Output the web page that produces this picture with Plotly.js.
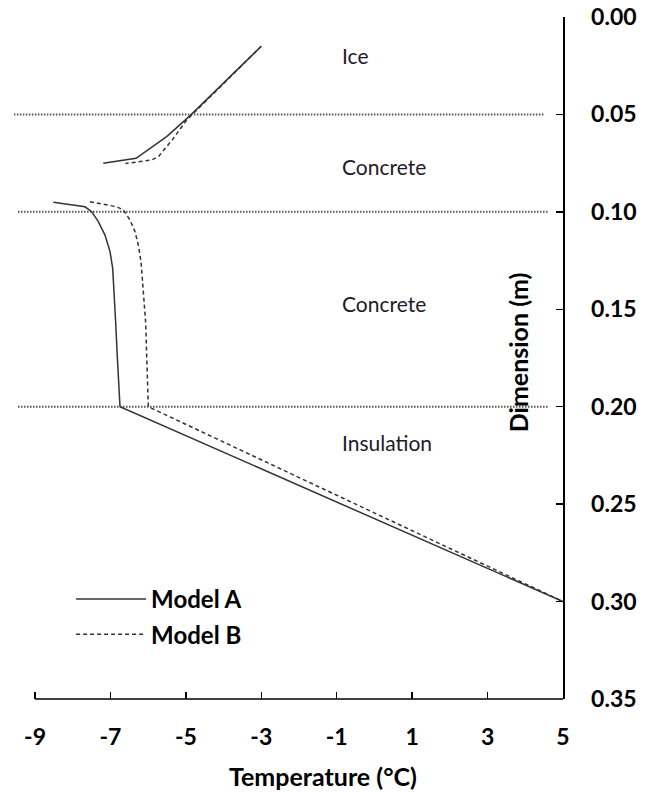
<!DOCTYPE html>
<html>
<head>
<meta charset="utf-8">
<script src="https://cdn.plot.ly/plotly-3.0.1.min.js"></script>
<style>html,body{margin:0;padding:0;background:#fff;}#chart{width:653px;height:792px;}</style>
</head>
<body>
<div id="chart"></div>
<script>
// Model A: temperature (°C) vs depth (m); null separates the two layers drawn
var modelA_temp  = [-3.0, -4.88, -5.51, -6.32, -7.19, null,
                    -8.515, -7.674, -7.496, -7.321, -7.144, -7.011, -6.940, -6.905, -6.860, -6.818, -6.773, -6.746, 5.0];
var modelA_depth = [0.015, 0.0505, 0.0614, 0.0725, 0.0751, null,
                    0.0951, 0.0974, 0.0999, 0.1050, 0.1119, 0.1204, 0.1290, 0.1392, 0.1572, 0.1743, 0.1914, 0.200, 0.300];
// Model B
var modelB_temp  = [-3.0, -4.88, -4.98, -5.33, -5.73, -5.91, -6.60, null,
                    -7.542, -6.833, -6.658, -6.481, -6.348, -6.261, -6.189, -6.155, -6.102, -6.064, -6.038, -6.011, -5.995, 5.0];
var modelB_depth = [0.015, 0.0505, 0.0529, 0.0623, 0.0717, 0.0734, 0.0752, null,
                    0.0948, 0.0974, 0.0990, 0.1042, 0.1102, 0.1170, 0.1256, 0.1341, 0.1444, 0.1572, 0.1743, 0.1914, 0.200, 0.300];
// layer boundaries (m)
var boundaryDepths = [0.05, 0.10, 0.20];
// layer labels
var layerNames = ['Ice', 'Concrete', 'Concrete', 'Insulation'];
var layerLabelDepths = [0.0195, 0.0765, 0.147, 0.2186];
// ticks
var xTickVals = [-9, -7, -5, -3, -1, 1, 3, 5];
var xTickText = ['-9', '-7', '-5', '-3', '-1', '1', '3', '5'];
var yTickVals = [0, 0.05, 0.10, 0.15, 0.20, 0.25, 0.30, 0.35];
var yTickText = ['0.00', '0.05', '0.10', '0.15', '0.20', '0.25', '0.30', '0.35'];

var FONT = 'Lato, "Open Sans", sans-serif';

var traces = [
  {x: modelA_temp, y: modelA_depth, name: 'Model A', mode: 'lines', connectgaps: false,
   legendgroup: 'a', line: {color: '#333', width: 1.5}},
  {x: modelB_temp, y: modelB_depth, name: 'Model B', mode: 'lines', connectgaps: false,
   legendgroup: 'b', line: {color: '#333', width: 1.5, dash: '4px,3px'}}
];

var shapes = [];
var bStart = [-9.56, -9.45, -9.45], bEnd = [4.52, 4.63, 4.63];
boundaryDepths.forEach(function (d, i) {
  shapes.push({type: 'line', xref: 'x', yref: 'y', x0: bStart[i], x1: bEnd[i], y0: d, y1: d,
    line: {color: '#555', width: 2, dash: '1.5px,1.5px'}, layer: 'below'});
});
// x axis line spanning -9 .. 5
shapes.push({type: 'line', xref: 'x', yref: 'paper', x0: xTickVals[0], x1: xTickVals[xTickVals.length - 1],
  y0: 0, y1: 0, line: {color: '#000', width: 1.5}});

var annotations = layerNames.map(function (t, i) {
  return {text: t, x: -0.9, y: layerLabelDepths[i], xref: 'x', yref: 'y', xanchor: 'left', yanchor: 'middle',
    showarrow: false, font: {family: FONT, size: 21, color: '#1e1a2a'}};
});
annotations.push({text: '<b>Dimension (m)</b>', textangle: -90, x: 3.81, y: 0.172, xref: 'x', yref: 'y',
  xanchor: 'center', yanchor: 'middle', showarrow: false, font: {family: FONT, size: 25, color: '#000'}});
annotations.push({text: '<b>Temperature (°C)</b>', x: -1.36, y: -0.1129, xref: 'x', yref: 'paper',
  xanchor: 'center', yanchor: 'middle', showarrow: false, font: {family: FONT, size: 25, color: '#000'}});

var layout = {
  width: 653, height: 792,
  margin: {l: 14, r: 90, t: 17, b: 93},
  paper_bgcolor: '#fff', plot_bgcolor: '#fff',
  showlegend: true,
  legend: {x: 0.104, y: 0.179, xanchor: 'left', yanchor: 'top', bgcolor: 'rgba(0,0,0,0)',
    itemwidth: 70, tracegroupgap: 1, traceorder: 'grouped',
    font: {family: FONT, size: 24, color: '#000', weight: 'bold'}},
  xaxis: {
    range: [-9.557, 5], tickvals: xTickVals, ticktext: xTickText, ticks: 'inside', ticklen: 7, tickwidth: 1.5,
    tickcolor: '#000', showline: false, zeroline: false, showgrid: false, ticklabelstandoff: 22,
    tickfont: {family: FONT, size: 23, color: '#000', weight: 'bold'}
  },
  yaxis: {
    range: [0.35, 0], side: 'right', tickvals: yTickVals, ticktext: yTickText, ticks: 'inside', ticklen: 7,
    tickwidth: 1.5, tickcolor: '#000', showline: true, linecolor: '#000', linewidth: 1.5,
    zeroline: false, showgrid: false, ticklabelstandoff: 22,
    tickfont: {family: FONT, size: 23, color: '#000', weight: 'bold'}
  },
  shapes: shapes,
  annotations: annotations
};

Plotly.newPlot('chart', traces, layout, {displayModeBar: false, staticPlot: true});
</script>
</body>
</html>
